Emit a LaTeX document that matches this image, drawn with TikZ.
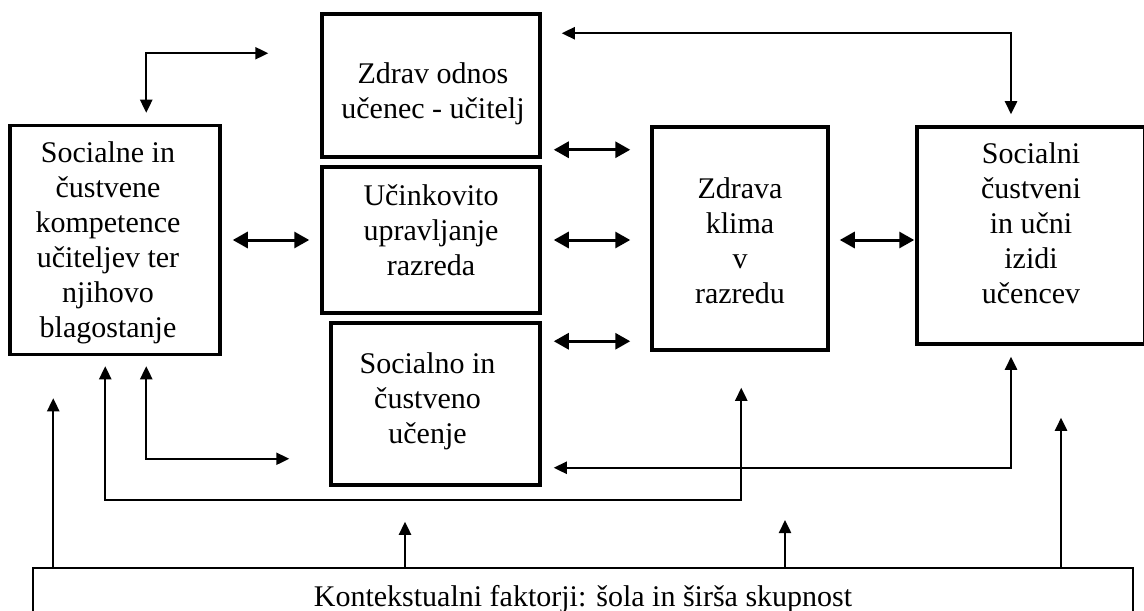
\documentclass[tikz,border=0pt]{standalone}
\usepackage{fontspec}
\setmainfont{Liberation Serif}
\usepackage{tikz}
\usetikzlibrary{arrows.meta,positioning}
\tikzset{
  box/.style={
    draw,
    line width=1.75pt,
    inner sep=0pt
  },
  framebox/.style={
    draw,
    line width=1.25pt,
    align=center,
    inner sep=0pt,
    font=\fontsize{15}{18}\selectfont
  },
  boxtext/.style={
    align=center,
    inner sep=0pt,
    font=\fontsize{15}{17.5}\selectfont
  },
  link/.style={{Triangle[length=7.5pt,width=8pt]}-{Triangle[length=7.5pt,width=8pt]}, line width=1.5pt},
  loop/.style={{Triangle[length=6.5pt,width=6pt]}-{Triangle[length=6.5pt,width=6pt]}, line width=1.2pt},
  rise/.style={-{Triangle[length=6.5pt,width=6pt]}, line width=1.2pt}
}

\begin{document}
\begin{tikzpicture}[x=0.5pt, y=-0.5pt]
  \useasboundingbox (0,0) rectangle (1144,610);

  \node[box, minimum width=105pt, minimum height=114.5pt,
    label={[boxtext, xshift=-3.5pt, yshift=-1.5pt]center:{Socialne in\\čustvene\\kompetence\\učiteljev ter\\njihovo\\blagostanje}}]
    (comp) at (115,240) {};
  \node[box, minimum width=109pt, minimum height=71.5pt,
    label={[boxtext, xshift=1pt, yshift=-4pt]center:{Zdrav odnos\\učenec - učitelj}}]
    (relation) at (431,85.5) {};
  \node[box, minimum width=109pt, minimum height=73pt,
    label={[boxtext, yshift=5pt]center:{Učinkovito\\upravljanje\\razreda}}]
    (management) at (431,240) {};
  \node[box, minimum width=104.5pt, minimum height=81pt,
    label={[boxtext, xshift=-4pt, yshift=1.5pt]center:{Socialno in\\čustveno\\učenje}}]
    (sel) at (435.5,404) {};
  \node[box, minimum width=88pt, minimum height=111.5pt,
    label={[boxtext, yshift=-1pt]center:{Zdrava\\klima\\v\\razredu}}]
    (climate) at (740,238.5) {};
  \node[box, minimum width=114pt, minimum height=108.5pt,
    label={[boxtext, yshift=6pt]center:{Socialni\\čustveni\\in učni\\izidi\\učencev}}]
    (outcomes) at (1031,235.5) {};
  \node[framebox, minimum width=550pt, minimum height=31pt] (context) at (583,599)
    {Kontekstualni faktorji: šola in širša skupnost};

  % free arrow tips
  \coordinate (toComp) at ([shift={(45,42)}]comp.south west);
  \coordinate (toSel) at ([shift={(-30.5,35)}]sel.south);
  \coordinate (toClimate) at (785,520);
  \coordinate (toOutcomes) at ([shift={(30,72)}]outcomes.south);

  % top connectors
  \draw[loop] ([shift={(-52,41)}]relation.north west) -| ([shift={(138,-11)}]comp.north west);
  \draw[loop] ([shift={(20,21)}]relation.north east) -| ([shift={(-20,-11)}]outcomes.north);

  % links between boxes
  \draw[link] ([xshift=5.5pt]comp.east) -- ([xshift=-5.5pt]management.west);
  \draw[link] ([shift={(12,-9)}]relation.south east) -- ([shift={(-20,-9)}]relation.south east -| climate.west);
  \draw[link] ([xshift=6pt]management.east) -- ([xshift=-10pt]management.east -| climate.west);
  \draw[link] ([shift={(12,20)}]sel.north east) -- ([shift={(-20,20)}]sel.north east -| climate.west);
  \draw[link] ([shift={(10,1.5)}]climate.east) -- ([shift={(-1,1.5)}]climate.east -| outcomes.west);

  % lower connectors
  \draw[loop] ([shift={(97,10)}]comp.south west) |- ([yshift=-6.5pt]sel.south)
    -| ([shift={(91,36)}]climate.south west);
  \draw[loop] ([shift={(138,10)}]comp.south west) |- ([shift={(-40,-28)}]sel.south west);
  \draw[loop] ([shift={(12,-19)}]sel.south east) -| ([shift={(-20,11)}]outcomes.south);

  % context arrows
  \draw[rise] (context.north -| toComp) -- (toComp);
  \draw[rise] (context.north -| toSel) -- (toSel);
  \draw[rise] (context.north -| toClimate) -- (toClimate);
  \draw[rise] (context.north -| toOutcomes) -- (toOutcomes);
\end{tikzpicture}
\end{document}
